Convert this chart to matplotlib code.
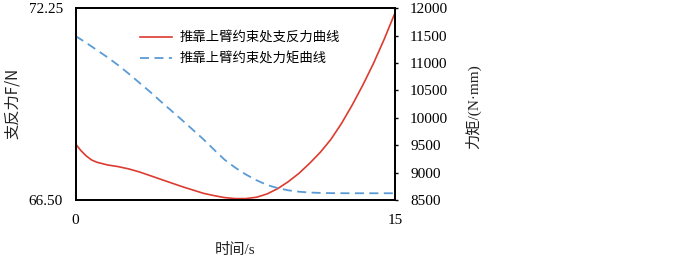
import matplotlib
matplotlib.use("Agg")
import matplotlib.pyplot as plt
import numpy as np

# time (s)
t_force = [0, 0.25, 0.5, 0.75, 1, 1.5, 2, 2.5, 3, 3.5, 4, 4.5, 5, 5.5, 6, 6.5, 7, 7.5,
           8, 8.5, 9, 9.5, 10, 10.5, 11, 11.5, 12, 12.5, 13, 13.5, 14, 14.5, 15]
# support reaction force (N)
force = [68.18, 67.98, 67.82, 67.70, 67.63, 67.55, 67.50, 67.43, 67.34, 67.23, 67.12,
         67.01, 66.90, 66.80, 66.70, 66.63, 66.57, 66.54, 66.54, 66.58, 66.68, 66.84,
         67.05, 67.30, 67.60, 67.93, 68.32, 68.80, 69.35, 69.95, 70.60, 71.32, 72.10]

t_moment = [0, 0.5, 1, 1.5, 2, 2.5, 3, 3.5, 4, 4.5, 5, 5.5, 6, 6.5, 7, 7.5, 8, 8.5,
            9, 9.5, 10, 10.5, 11, 11.5, 12, 13, 14, 15]
# moment (N*mm)
moment = [11494, 11370, 11238, 11105, 10962, 10805, 10640, 10475, 10300, 10130, 9960,
          9785, 9610, 9420, 9235, 9090, 8965, 8860, 8773, 8716, 8675, 8650, 8635, 8628,
          8624, 8622, 8622, 8622]

left_ticks = [66.50, 72.25]
right_ticks = [8500, 9000, 9500, 10000, 10500, 11000, 11500, 12000]
x_ticks = [0, 15]

red = "#dc3b30"
blue = "#5b9bd5"
serif = ["Liberation Serif", "Noto Sans CJK SC"]
cjk = ["Noto Sans CJK SC", "DejaVu Sans"]

fig = plt.figure(figsize=(7, 2.61), dpi=100)
ax = fig.add_axes([0.108, 0.234, 0.456, 0.734])
ax2 = ax.twinx()

l1, = ax.plot(t_force, force, color=red, lw=1.2)
l2, = ax2.plot(t_moment, moment, color=blue, lw=1.3, ls=(0, (5, 3)))

ax.set_xlim(0, 15)
ax.set_ylim(66.5, 72.25)
ax2.set_ylim(8500, 12000)

ax.set_xticks(x_ticks)
ax.set_yticks(left_ticks)
ax.set_yticklabels(["%.2f" % v for v in left_ticks])
ax2.set_yticks(right_ticks)

ax.tick_params(axis="x", length=0, pad=10, labelsize=11)
ax.tick_params(axis="y", length=0, pad=9, labelsize=11)
ax2.tick_params(axis="y", length=2, width=1, direction="out", pad=9, labelsize=11)
for a in (ax, ax2):
    for lab in a.get_xticklabels() + a.get_yticklabels():
        lab.set_family(serif)
    for s in a.spines.values():
        s.set_linewidth(1.3)
        s.set_color("black")

fig.text(0.018, 0.602, "支反力F/N", rotation=90, ha="center", va="center",
         fontsize=11, family=cjk, color="#222222")
fig.text(0.676, 0.59, "力矩/(N·mm)", rotation=90, ha="center", va="center",
         fontsize=11, family=serif, color="#222222")
fig.text(0.336, 0.042, "时间/s", ha="center", va="center",
         fontsize=11, family=serif, color="#222222")

leg = ax.legend([l1, l2], ["推靠上臂约束处支反力曲线", "推靠上臂约束处力矩曲线"],
                loc="upper left", bbox_to_anchor=(0.186, 0.91), frameon=False,
                prop={"family": cjk, "size": 9.6}, handlelength=2.4,
                handletextpad=0.55, labelspacing=0.5, borderaxespad=0)

fig.savefig("out.png", dpi=100)
